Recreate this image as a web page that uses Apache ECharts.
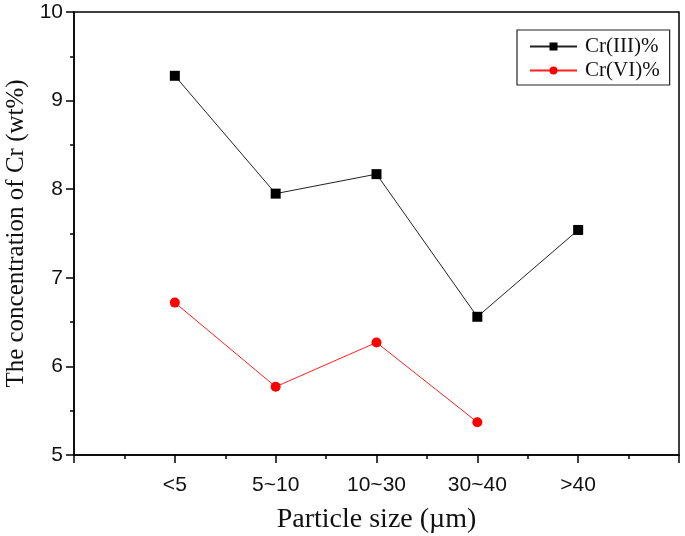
<!DOCTYPE html>
<html><head><meta charset="utf-8">
<script src="https://cdn.jsdelivr.net/npm/echarts@6/dist/echarts.min.js"></script>
<style>html,body{margin:0;padding:0;background:#fff}#c{width:685px;height:536px}</style>
</head><body><div id="c"></div>
<script>
const categories = ['<5', '5~10', '10~30', '30~40', '>40'];
const crIII = [9.28, 7.95, 8.17, 6.56, 7.54];
const crVI = [6.72, 5.77, 6.27, 5.37];
const yTicks = [5, 6, 7, 8, 9, 10];

const toPairs = arr => arr.map((v, i) => [i + 1, v]);
const chart = echarts.init(document.getElementById('c'));
const serif = 'Liberation Serif';
const sans = 'Liberation Sans';
chart.setOption({
  animation: false,
  backgroundColor: '#fff',
  grid: { left: 74, right: 6, top: 12, bottom: 81, containLabel: false, outerBoundsMode: 'none',
    show: true, borderColor: '#000', borderWidth: 1.5, backgroundColor: 'transparent' },
  legend: {
    left: 517, top: 30, orient: 'vertical',
    borderColor: '#222', borderWidth: 1.2,
    padding: [6, 10, 4, 12], itemGap: 3, itemWidth: 47, itemHeight: 10,
    textStyle: { fontFamily: serif, fontSize: 21, color: '#111', padding: [0, 0, 0, 3] },
    data: ['Cr(III)%', 'Cr(VI)%']
  },
  xAxis: {
    type: 'value', min: 0, max: 6, interval: 1,
    name: 'Particle size (µm)', nameLocation: 'middle', nameGap: 51,
    nameTextStyle: { fontFamily: serif, fontSize: 28, color: '#111' },
    axisLine: { lineStyle: { color: '#000', width: 1.5 } },
    axisTick: { show: true, inside: false, length: 8, lineStyle: { width: 1.5, color: '#000' } },
    minorTick: { show: true, splitNumber: 2, length: 4, lineStyle: { width: 1.5, color: '#000' } },
    splitLine: { show: false },
    axisLabel: { margin: 20, fontFamily: sans, fontSize: 21, color: '#111',
      formatter: v => categories[v - 1] || '' }
  },
  yAxis: {
    type: 'value', min: yTicks[0], max: yTicks[yTicks.length - 1], interval: 1,
    name: 'The concentration of Cr (wt%)', nameLocation: 'middle', nameGap: 42,
    nameTextStyle: { fontFamily: serif, fontSize: 25, color: '#111' },
    axisLine: { show: true, lineStyle: { color: '#000', width: 1.5 } },
    axisTick: { show: true, inside: false, length: 8, lineStyle: { width: 1.5, color: '#000' } },
    minorTick: { show: true, splitNumber: 2, length: 4, lineStyle: { width: 1.5, color: '#000' } },
    splitLine: { show: false },
    axisLabel: { margin: 11, fontFamily: sans, fontSize: 21, color: '#111' }
  },
  series: [
    { name: 'Cr(III)%', type: 'line', data: toPairs(crIII), symbol: 'rect', symbolSize: 10,
      itemStyle: { color: '#000' }, lineStyle: { color: '#222', width: 1 } },
    { name: 'Cr(VI)%', type: 'line', data: toPairs(crVI), symbol: 'circle', symbolSize: 10,
      itemStyle: { color: '#ff0000' }, lineStyle: { color: '#ff2020', width: 1 } }
  ]
});
</script></body></html>
